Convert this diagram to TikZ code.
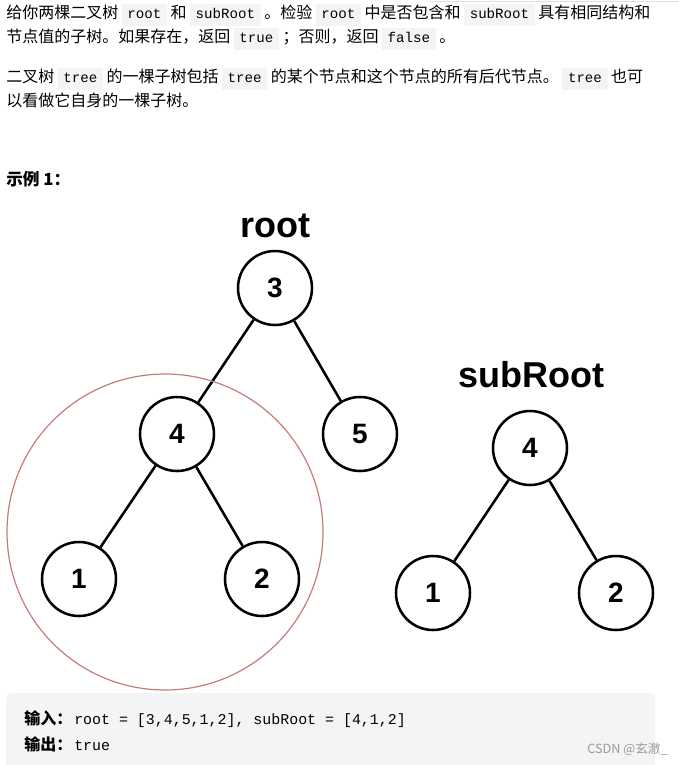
\documentclass[tikz,border=0pt]{standalone}
\usepackage{fontspec}
\setmainfont{Liberation Sans}
\setmonofont{Liberation Mono}
\newfontfamily\cjk{Noto Sans CJK SC}
\definecolor{codebg}{HTML}{F3F4F5}
\definecolor{ringred}{HTML}{C77A7A}
\definecolor{wmgray}{HTML}{9A9A9A}
\newcommand{\code}[1]{{\setlength{\fboxsep}{2.2pt}\colorbox{codebg}{\hspace{2pt}\ttfamily\fontsize{10.6pt}{12pt}\selectfont\strut #1\hspace{2pt}}}}
\tikzset{
  tnode/.style={draw, circle, line width=1.9pt, minimum size=55.5pt, inner sep=0pt,
                font=\fontsize{21pt}{24pt}\selectfont\bfseries},
  tedge/.style={line width=1.9pt},
  tlabel/.style={font=\fontsize{27pt}{30pt}\selectfont\bfseries, inner sep=0pt},
  para/.style={anchor=base west, inner sep=0pt, font=\cjk\fontsize{12pt}{15pt}\selectfont},
  ring/.style={draw=ringred, line width=0.9pt},
}
\begin{document}
\begin{tikzpicture}[x=0.75pt, y=-0.75pt]
\useasboundingbox (0,0) rectangle (679,765);
\draw[gray!25, line width=1pt] (430,1.5) -- (679,1.5);
% paragraph text
\node[para] (l1) at (6,18) {给你两棵二叉树 \code{root} 和 \code{subRoot} 。检验 \code{root} 中是否包含和 \code{subRoot} 具有相同结构和};
\node[para] (l2) at (6,42) {节点值的子树。如果存在，返回 \code{true} ；否则，返回 \code{false} 。};
\node[para] (l3) at (6,82) {二叉树 \code{tree} 的一棵子树包括 \code{tree} 的某个节点和这个节点的所有后代节点。 \code{tree} 也可};
\node[para] (l4) at (6,106) {以看做它自身的一棵子树。};
\node[para, font=\cjk\bfseries\fontsize{12.5pt}{15pt}\selectfont] (ex) at (6,185) {示例 1：};
% big tree
\node[tlabel] (rootlbl) at (275,226) {root};
\node[tnode] (n3) at (275,288) {3};
\node[tnode] (n4) at (177,434) {4};
\node[tnode] (n5) at (360,434) {5};
\node[tnode] (n1) at (79,579) {1};
\node[tnode] (n2) at (262,579) {2};
\draw[tedge] (n3) -- (n4);
\draw[tedge] (n3) -- (n5);
\draw[tedge] (n4) -- (n1);
\draw[tedge] (n4) -- (n2);
\draw[ring] (165,532) circle[radius=158];
% sub tree
\node[tlabel] (sublbl) at (531,375) {subRoot};
\node[tnode] (s4) at (530,448) {4};
\node[tnode] (s1) at (433,593) {1};
\node[tnode] (s2) at (616,593) {2};
\draw[tedge] (s4) -- (s1);
\draw[tedge] (s4) -- (s2);
% example box
\fill[codebg, rounded corners=4pt] (6,693) rectangle (655,775);
\node[para, font=\fontsize{11.2pt}{14pt}\selectfont] (in) at (24,724) {{\cjk\bfseries\fontsize{12pt}{14pt}\selectfont 输入：}\hspace{1.5pt}\texttt{root = [3,4,5,1,2], subRoot = [4,1,2]}};
\node[para, font=\fontsize{11.2pt}{14pt}\selectfont] (out) at (24,750) {{\cjk\bfseries\fontsize{12pt}{14pt}\selectfont 输出：}\hspace{1.5pt}\texttt{true}};
\node[anchor=base east, inner sep=0pt, text=wmgray, font=\cjk\fontsize{9.5pt}{11pt}\selectfont] (wm) at (668,753) {CSDN @玄澈\_};
\end{tikzpicture}
\end{document}
